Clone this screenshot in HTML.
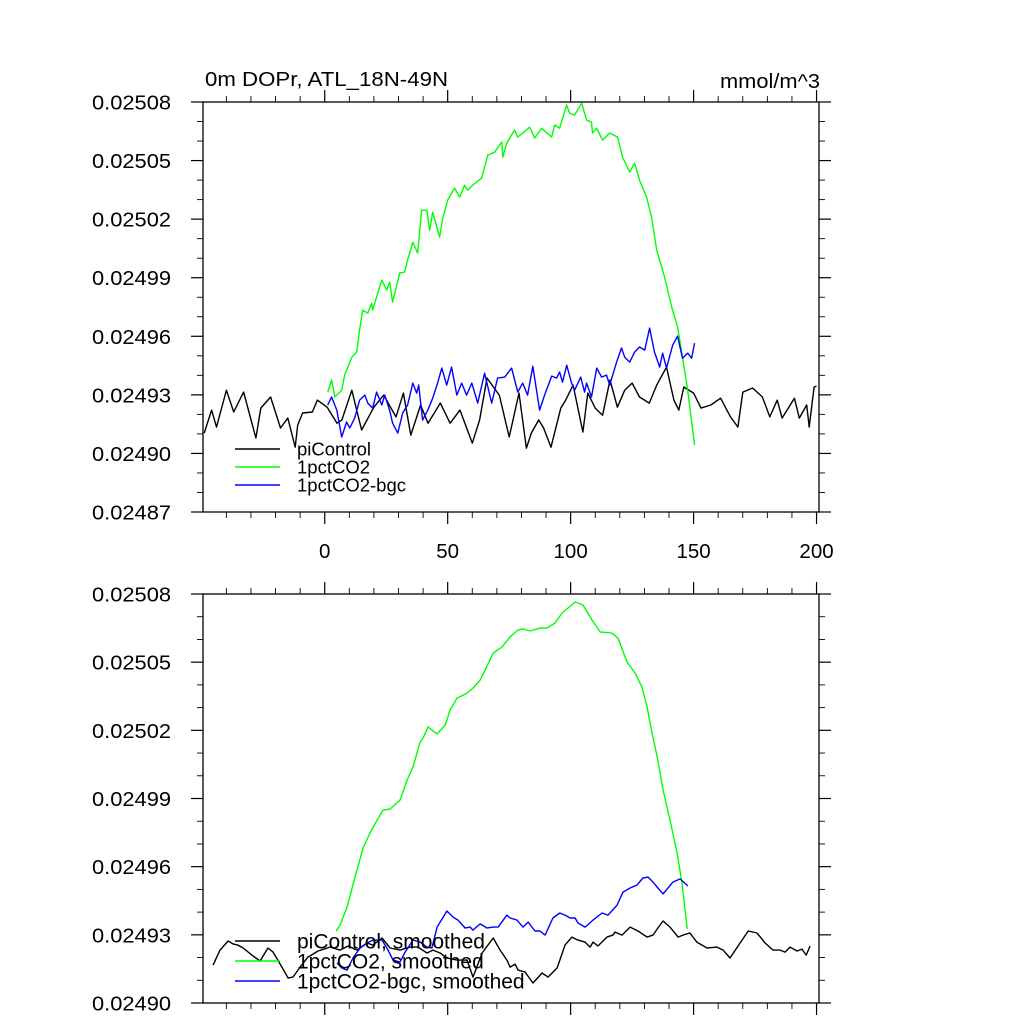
<!DOCTYPE html>
<html><head><meta charset="utf-8"><style>
html,body{margin:0;padding:0;background:#fff;}
svg{display:block;font-family:"Liberation Sans",Arial,sans-serif;}
</style></head><body>
<svg id="c" width="1024" height="1024" viewBox="0 0 1024 1024"></svg>
<script>
const xTicksMajor=[0,50,100,150,200];
const xTickLabels=["0","50","100","150","200"];
const topYTicks=[0.02487,0.02490,0.02493,0.02496,0.02499,0.02502,0.02505,0.02508];
const topYLabels=["0.02487","0.02490","0.02493","0.02496","0.02499","0.02502","0.02505","0.02508"];
const botYTicks=[0.02490,0.02493,0.02496,0.02499,0.02502,0.02505,0.02508];
const botYLabels=["0.02490","0.02493","0.02496","0.02499","0.02502","0.02505","0.02508"];

const piTopYears=[-49,-46,-44,-40,-37,-33,-28,-26,-22,-18,-15,-12,-11,-9,-5,-3,1,5,7,11,15,20,24,29,32,35,39,42,47,51,55,60,63,66,71,75,79,82,84,87,89,92,96,98,101,105,107,110,113,116,119,122,125,128,132,135,139,142,144,146,150,153,157,161,165,168,170,174,178,181,184,186,191,193,196,197,199,200];
const piTopVals=[0.0249104,0.0249222,0.0249135,0.0249324,0.0249212,0.0249314,0.0249079,0.0249232,0.0249289,0.0249130,0.0249181,0.0249032,0.0249145,0.0249207,0.0249212,0.0249273,0.0249237,0.0249155,0.0249171,0.0249324,0.0249120,0.0249237,0.0249299,0.0249187,0.0249309,0.0249094,0.0249248,0.0249155,0.0249258,0.0249155,0.0249222,0.0249053,0.0249171,0.0249386,0.0249299,0.0249084,0.0249309,
0.0249027,0.0249104,0.0249171,0.0249130,0.0249032,0.0249232,0.0249273,0.0249350,0.0249109,0.0249309,0.0249232,0.0249196,0.0249376,0.0249237,0.0249324,0.0249360,0.0249289,0.0249258,0.0249350,0.0249442,0.0249273,0.0249222,0.0249340,0.0249309,0.0249232,0.0249248,0.0249283,0.0249187,0.0249135,0.0249314,0.0249335,0.0249289,0.0249187,0.0249273,0.0249181,0.0249283,0.0249181,0.0249248,0.0249135,0.0249340,0.0249345];

const co2TopYears=[1.2,2.8,4.1,6.9,8.1,11.0,13.0,14.2,15.4,17.5,19.1,19.5,21.1,23.2,25.2,26.4,27.6,30.5,32.5,33.7,35.8,37.8,39.4,41.5,42.7,43.9,46.7,48.0,50.0,52.8,54.9,56.9,58.1,60.2,63.8,66.3,69.1,72.0,72.4,74.0,77.2,78.5,83.3,85.4,88.2,92.3,93.5,95.5,98.4,99.6,101.6,104.5,106.5,108.5,108.9,110.6,113.0,115.9,119.1,121.1,124.0,126.0,128.0,130.9,132.9,135.0,138.2,141.1,143.5,145.5,147.6,150.4];
const co2TopVals=[0.0249314,0.0249376,0.0249289,0.0249324,0.0249401,0.0249493,0.0249519,0.0249632,0.0249734,0.0249719,0.0249770,0.0249734,0.0249801,0.0249888,0.0249837,0.0249878,0.0249775,0.0249924,0.0249929,0.0249990,0.0250082,0.0250026,0.0250246,0.0250246,0.0250144,0.0250236,0.0250108,0.0250205,0.0250298,0.0250359,0.0250313,0.0250374,0.0250349,0.0250374,0.0250410,0.0250528,0.0250543,0.0250595,0.0250518,0.0250590,0.0250656,0.0250620,0.0250671,0.0250615,0.0250666,0.0250620,0.0250682,0.0250666,0.0250784,0.0250743,0.0250733,0.0250794,0.0250707,0.0250697,0.0250641,0.0250666,0.0250605,0.0250641,0.0250620,0.0250518,0.0250441,0.0250487,0.0250400,0.0250313,0.0250211,0.0250041,0.0249903,0.0249750,0.0249647,0.0249493,0.0249324,0.0249043];

const bgcTopYears=[1.2,2.8,4.9,6.9,8.9,10.2,12.2,14.2,16.3,17.5,19.5,21.1,23.2,24.4,26.4,27.6,29.7,31.7,33.7,35.8,37.4,38.2,39.8,41.9,43.9,45.9,47.6,49.6,51.6,53.7,55.7,57.7,59.8,62.2,65.0,67.9,70.3,73.2,76.0,78.5,80.5,82.5,84.6,87.4,89.4,92.3,94.3,95.5,96.7,98.4,100.4,101.6,104.1,105.7,106.5,108.5,110.6,112.6,114.6,115.9,118.7,120.7,122.0,124.0,126.0,128.0,130.1,132.1,134.1,136.2,137.4,139.0,141.5,143.5,145.5,147.6,149.2,150.4];
const bgcTopVals=[0.0249248,0.0249289,0.0249222,0.0249084,0.0249161,0.0249130,0.0249181,0.0249273,0.0249299,0.0249258,0.0249232,0.0249314,0.0249248,0.0249299,0.0249222,0.0249155,0.0249104,0.0249207,0.0249248,0.0249360,0.0249309,0.0249350,0.0249171,0.0249222,0.0249283,0.0249360,0.0249437,0.0249350,0.0249442,0.0249299,0.0249360,0.0249299,0.0249360,0.0249258,0.0249411,0.0249258,0.0249386,0.0249391,0.0249437,0.0249314,0.0249360,0.0249299,0.0249447,0.0249222,0.0249299,0.0249396,0.0249386,0.0249417,0.0249365,0.0249452,0.0249360,0.0249324,0.0249391,0.0249314,0.0249360,0.0249289,0.0249437,0.0249391,0.0249401,0.0249350,0.0249468,0.0249540,0.0249493,0.0249468,0.0249519,0.0249545,0.0249529,0.0249642,0.0249519,0.0249442,0.0249514,0.0249437,0.0249555,0.0249601,0.0249488,0.0249514,0.0249488,0.0249565];

const piSmYears=[-45.4,-42.6,-39.3,-37.3,-35.3,-33.2,-29.6,-26.3,-23.1,-21.0,-17.4,-14.9,-12.9,-10.0,-6.8,-2.7,2.2,6.2,9.5,13.1,17.2,19.6,23.3,26.6,30.6,34.7,37.9,41.6,44.0,46.9,49.7,53.8,57.9,60.3,64.0,68.5,71.3,74.1,75.4,77.4,78.6,81.5,84.7,88.4,90.8,94.5,97.7,100.5,103.0,105.9,107.9,109.1,111.1,114.8,117.2,118.1,120.9,124.2,127.4,131.1,133.5,135.5,137.6,140.4,143.7,145.7,148.5,151.3,155.5,159.5,162.0,164.8,168.9,172.2,175.8,179.1,182.3,185.2,187.2,189.2,192.1,194.1,195.8,197.4];
const piSmVals=[0.0249167,0.0249233,0.0249273,0.0249260,0.0249255,0.0249242,0.0249211,0.0249185,0.0249242,0.0249224,0.0249158,0.0249110,0.0249114,0.0249158,0.0249202,0.0249229,0.0249246,0.0249233,0.0249251,0.0249233,0.0249264,0.0249255,0.0249286,0.0249242,0.0249233,0.0249246,0.0249246,0.0249220,0.0249233,0.0249220,0.0249198,0.0249189,0.0249189,0.0249114,0.0249220,0.0249286,0.0249233,0.0249189,0.0249158,0.0249171,0.0249145,0.0249136,0.0249088,0.0249132,0.0249114,0.0249154,0.0249255,0.0249290,0.0249277,0.0249268,0.0249246,0.0249268,0.0249251,0.0249290,0.0249299,0.0249312,0.0249299,0.0249334,0.0249317,0.0249290,0.0249299,0.0249330,0.0249361,0.0249334,0.0249290,0.0249299,0.0249308,0.0249268,0.0249242,0.0249246,0.0249233,0.0249198,0.0249264,0.0249317,0.0249308,0.0249264,0.0249233,0.0249233,0.0249224,0.0249246,0.0249229,0.0249237,0.0249211,0.0249251];

const co2SmYears=[4.6,6.2,9.1,12.3,15.6,18.4,21.3,23.7,26.6,30.6,33.5,35.9,38.8,40.0,42.0,45.7,49.0,51.0,53.8,57.9,60.3,63.2,65.2,68.5,72.1,75.4,78.6,80.6,83.5,87.5,90.4,93.6,96.5,98.9,101.8,105.0,108.7,112.0,116.8,119.3,122.9,126.2,129.0,131.1,133.1,135.2,137.6,140.4,143.3,145.3,147.4];
const co2SmVals=[0.0249317,0.0249343,0.0249422,0.0249554,0.0249682,0.0249748,0.0249805,0.0249849,0.0249854,0.0249893,0.0249981,0.0250039,0.0250149,0.0250166,0.0250215,0.0250184,0.0250223,0.0250289,0.0250342,0.0250364,0.0250386,0.0250421,0.0250465,0.0250540,0.0250567,0.0250611,0.0250642,0.0250646,0.0250637,0.0250650,0.0250650,0.0250672,0.0250716,0.0250738,0.0250765,0.0250752,0.0250686,0.0250633,0.0250628,0.0250606,0.0250501,0.0250452,0.0250391,0.0250303,0.0250188,0.0250083,0.0249937,0.0249805,0.0249660,0.0249528,0.0249326];

const bgcSmYears=[5.0,7.0,9.1,11.5,14.4,17.2,19.6,23.3,25.3,27.8,30.6,32.7,35.9,38.8,41.6,43.6,45.7,49.7,52.2,54.2,57.1,59.1,60.3,63.2,66.0,68.5,70.5,74.1,75.4,78.2,80.6,82.7,85.5,87.5,89.6,92.8,95.6,97.7,99.8,101.8,103.0,105.9,109.1,112.8,115.2,118.9,121.3,124.2,127.0,129.4,131.5,133.5,135.5,137.6,139.6,141.6,144.5,147.7];
const bgcSmVals=[0.0249176,0.0249154,0.0249145,0.0249198,0.0249242,0.0249264,0.0249277,0.0249277,0.0249242,0.0249189,0.0249180,0.0249224,0.0249277,0.0249268,0.0249246,0.0249242,0.0249334,0.0249405,0.0249378,0.0249365,0.0249330,0.0249334,0.0249321,0.0249348,0.0249330,0.0249334,0.0249334,0.0249387,0.0249374,0.0249365,0.0249334,0.0249356,0.0249317,0.0249317,0.0249299,0.0249374,0.0249396,0.0249387,0.0249374,0.0249374,0.0249352,0.0249334,0.0249365,0.0249396,0.0249387,0.0249431,0.0249488,0.0249506,0.0249519,0.0249550,0.0249554,0.0249532,0.0249506,0.0249480,0.0249506,0.0249532,0.0249546,0.0249515];

const NS="http://www.w3.org/2000/svg";
const svg=document.getElementById('c');
const L=203,R=819,XMIN=-49.5,XMAX=201;
function sx(v){return L+(v-XMIN)/(XMAX-XMIN)*(R-L);}
function mk(tag,attrs,parent){const e=document.createElementNS(NS,tag);for(const k in attrs)e.setAttribute(k,attrs[k]);(parent||svg).appendChild(e);return e;}

function panel(name,T,B,ymin,ymax,yTicks,yLabels,showX,series,legend,legFont){
  const g=mk('g',{});
  
  
  const sy=v=>B-(v-ymin)/(ymax-ymin)*(B-T);
  const frame=mk('rect',{x:L,y:T,width:R-L,height:B-T,fill:'none',stroke:'#000','stroke-width':1.3},g);
  
  
  const step=0.00001;
  const n=Math.round((ymax-ymin)/step);
  for(let i=0;i<=n;i++){
    const v=ymin+i*step;const y=sy(v);
    const major=(i%3===0);const len=major?12:6;
    const t1=mk('line',{x1:L,x2:L-len,y1:y,y2:y,stroke:'#000','stroke-width':major?1.2:0.9},g);
    
    
    const t2=mk('line',{x1:R,x2:R+len,y1:y,y2:y,stroke:'#000','stroke-width':major?1.2:0.9},g);
    
    
  }
  yTicks.forEach((v,i)=>{
    const t=mk('text',{x:92,y:sy(v)+7.5,'font-size':20,textLength:79,lengthAdjust:'spacingAndGlyphs',fill:'#000'},g);
    t.textContent=yLabels[i];
    
    
  });
  for(let v=-40;v<=200;v+=10){
    const x=sx(v);const major=(v%50===0);const len=major?12:6;
    const a=mk('line',{x1:x,x2:x,y1:T,y2:T-len,stroke:'#000','stroke-width':major?1.2:0.9},g);
    
    
    const b=mk('line',{x1:x,x2:x,y1:B,y2:B+len,stroke:'#000','stroke-width':major?1.2:0.9},g);
    
    
  }
  if(showX){
    xTicksMajor.forEach((v,i)=>{
      const t=mk('text',{x:sx(v),y:B+46,'text-anchor':'middle','font-size':20.5,fill:'#000'},g);
      t.textContent=xTickLabels[i];
      
      
    });
  }
  series.forEach(s=>{
    const d=s.x.map((xv,i)=>(i?'L':'M')+sx(xv).toFixed(1)+' '+sy(s.y[i]).toFixed(1)).join(' ');
    const p=mk('path',{d:d,fill:'none',stroke:s.c,'stroke-width':1.4,'stroke-linejoin':'round'},g);
    
    
  });
  legend.forEach(l=>{
    const ln=mk('line',{x1:235,x2:280,y1:l.y,y2:l.y,stroke:l.c,'stroke-width':1.4},g);
    
    
    const t=mk('text',{x:297,y:l.y+legFont*0.36,'font-size':legFont,fill:'#000'},g);
    t.textContent=l.t;
    
    
  });
}

panel('top-panel',102,512,0.02487,0.02508,topYTicks,topYLabels,true,[
  {x:piTopYears,y:piTopVals,c:'#000',n:'picontrol-line'},
  {x:co2TopYears,y:co2TopVals,c:'#00ff00',n:'1pctco2-line'},
  {x:bgcTopYears,y:bgcTopVals,c:'#0000ff',n:'1pctco2-bgc-line'}
],[{y:449,c:'#000',t:'piControl'},{y:467,c:'#00ff00',t:'1pctCO2'},{y:485,c:'#0000ff',t:'1pctCO2-bgc'}],18.5);

panel('bottom-panel',594,1003,0.02490,0.02508,botYTicks,botYLabels,false,[
  {x:piSmYears,y:piSmVals,c:'#000',n:'picontrol-smoothed-line'},
  {x:co2SmYears,y:co2SmVals,c:'#00ff00',n:'1pctco2-smoothed-line'},
  {x:bgcSmYears,y:bgcSmVals,c:'#0000ff',n:'1pctco2-bgc-smoothed-line'}
],[{y:941,c:'#000',t:'piControl, smoothed'},{y:961,c:'#00ff00',t:'1pctCO2, smoothed'},{y:981,c:'#0000ff',t:'1pctCO2-bgc, smoothed'}],21);

const title=mk('text',{x:205,y:86,'font-size':20,textLength:243,lengthAdjust:'spacingAndGlyphs',fill:'#000'});
title.textContent='0m DOPr, ATL_18N-49N';


const unit=mk('text',{x:720,y:88,'font-size':20,textLength:100,lengthAdjust:'spacingAndGlyphs',fill:'#000'});
unit.textContent='mmol/m^3';


</script>
</body></html>
